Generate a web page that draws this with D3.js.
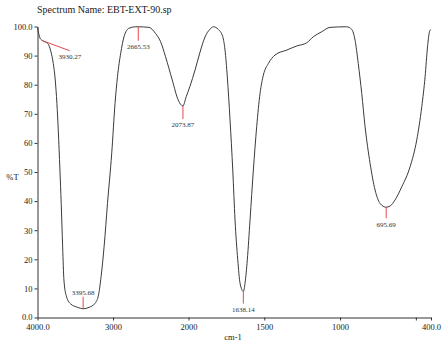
<!DOCTYPE html>
<html>
<head>
<meta charset="utf-8">
<script src="https://cdn.jsdelivr.net/npm/d3@7"></script>
<style>
  html, body { margin: 0; padding: 0; background: #fff; }
  svg { display: block; }
  text { font-family: "Liberation Serif", "Times New Roman", serif; }
</style>
</head>
<body>
<svg id="chart" width="442" height="342"></svg>
<script>
// IR spectrum, wavenumber (cm-1) vs transmittance (%T)
const spectrumName = "Spectrum Name: EBT-EXT-90.sp";

const wavenumbers = [
  4000, 3984, 3967, 3931, 3865, 3822, 3791, 3765, 3743, 3725, 3703, 3686,
  3667, 3650, 3615, 3558, 3469, 3396, 3316, 3237, 3192, 3158, 3118, 3073,
  3017, 2973, 2941, 2898, 2854, 2788, 2700, 2666, 2524, 2436, 2370, 2304,
  2215, 2136, 2074, 2030, 1990, 1957, 1924, 1891, 1858, 1836, 1803, 1774,
  1759, 1744, 1726, 1708, 1693, 1675, 1660, 1638, 1627, 1612, 1594, 1572,
  1550, 1528, 1506, 1473, 1429, 1352, 1286, 1220, 1176, 1121, 1066, 956,
  923, 901, 880, 857, 835, 802, 769, 736, 696, 670, 637, 593, 538, 494,
  461, 439, 423, 410, 401
];

const transmittance = [
  99.8, 97.6, 96.0, 95.1, 94.2, 91.3, 87.3, 81.6, 73.6, 64.4, 50.7, 39.2,
  24.3, 12.9, 7.1, 4.6, 3.5, 3.0, 3.5, 4.9, 7.7, 14.0, 24.3, 39.2,
  56.4, 73.6, 82.7, 90.8, 96.5, 99.4, 99.9, 99.9, 99.7, 97.6, 94.8, 89.6,
  81.6, 74.7, 72.7, 75.9, 79.5, 85.0, 91.2, 96.4, 99.1, 99.9, 99.0, 96.5,
  91.9, 82.7, 67.9, 50.7, 33.5, 19.8, 11.8, 8.9, 11.8, 19.8, 33.5, 50.7,
  65.6, 77.0, 83.3, 87.3, 90.2, 91.9, 93.3, 94.4, 96.5, 98.2, 99.7, 99.9,
  99.0, 95.3, 87.3, 77.0, 65.6, 53.0, 43.8, 39.2, 37.9, 38.3, 40.4, 44.9,
  51.8, 61.0, 72.4, 82.7, 93.0, 98.2, 99.0
];

// picked peaks
const peakWavenumbers = [3930.27, 3395.68, 2665.53, 2073.87, 1638.14, 695.69];
const peakTransmittance = [95.1, 3.0, 99.9, 72.7, 8.9, 37.9];

const xTickValues = [4000, 3000, 2000, 1500, 1000, 500, 400];
const yTickValues = [0, 10, 20, 30, 40, 50, 60, 70, 80, 90, 100];

const svg = d3.select("#chart");

// the axis is compressed above 2000 cm-1
const x = d3.scaleLinear().domain([4000, 2000, 400]).range([37.5, 188.5, 431]);
const y = d3.scaleLinear().domain([0, 100]).range([317.5, 26.5]);

// title
svg.append("text")
  .attr("x", 37).attr("y", 12.5)
  .attr("font-size", 10).attr("fill", "#222")
  .text(spectrumName);

// axes
const xAxis = d3.axisBottom(x)
  .tickValues(xTickValues)
  .tickSize(3).tickSizeOuter(0).tickPadding(3)
  .tickFormat(d => d === 4000 || d === 400 ? d.toFixed(1) : d === 500 ? "" : String(d));

const yAxis = d3.axisLeft(y)
  .tickValues(yTickValues)
  .tickSize(3).tickSizeOuter(0).tickPadding(2)
  .tickFormat(d => d === 0 || d === 100 ? d.toFixed(1) : String(d));

const gx = svg.append("g").attr("transform", `translate(0,${y(0)})`).call(xAxis);
const gy = svg.append("g").attr("transform", `translate(${x(4000)},0)`).call(yAxis);

[gx, gy].forEach(g => {
  g.select(".domain").attr("stroke", "#333");
  g.selectAll(".tick line").attr("stroke", "#333");
  g.selectAll(".tick text")
    .attr("font-family", "Liberation Serif, Times New Roman, serif")
    .attr("font-size", 8.5).attr("fill", "#222");
});
gy.selectAll(".tick text").attr("dy", d => d === 0 ? "0.22em" : "0.34em");

// axis titles
svg.append("text")
  .attr("x", 12.5).attr("y", 180)
  .attr("text-anchor", "middle")
  .attr("font-size", 8.5).attr("fill", "#222")
  .text("%T");

svg.append("text")
  .attr("x", 233).attr("y", 339.5)
  .attr("text-anchor", "middle")
  .attr("font-size", 8.5).attr("fill", "#222")
  .text("cm-1");

// spectrum trace
const points = wavenumbers.map((w, i) => [w, transmittance[i]]);
const line = d3.line()
  .x(d => x(d[0]))
  .y(d => y(d[1]))
  .curve(d3.curveMonotoneX);

svg.append("path")
  .datum(points)
  .attr("d", line)
  .attr("fill", "none")
  .attr("stroke", "#3a3a3a")
  .attr("stroke-width", 1);

// peak markers: leader offset (lx, ly) and label baseline offset (tx, ty)
const markerLayout = {
  "3930.27": { lx: 27, ly: 10, tx: 27, ty: 18 },
  "3395.68": { lx: 0, ly: -12, tx: 0, ty: -13.5 },
  "2665.53": { lx: 0, ly: 14, tx: 0, ty: 22 },
  "2073.87": { lx: 0, ly: 13, tx: 0, ty: 21 },
  "1638.14": { lx: 0, ly: 12, tx: 0, ty: 20 },
  "695.69":  { lx: 0, ly: 11, tx: 0, ty: 19.5 }
};

peakWavenumbers.forEach((w, i) => {
  const label = w.toFixed(2);
  const px = x(w), py = y(peakTransmittance[i]);
  const m = markerLayout[label];
  svg.append("line")
    .attr("x1", px).attr("y1", py)
    .attr("x2", px + m.lx).attr("y2", py + m.ly)
    .attr("stroke", "#e8474a").attr("stroke-width", 1);
  svg.append("text")
    .attr("x", px + m.tx).attr("y", py + m.ty)
    .attr("text-anchor", "middle")
    .attr("font-size", 7).attr("fill", "#333")
    .text(label);
});
</script>
</body>
</html>
